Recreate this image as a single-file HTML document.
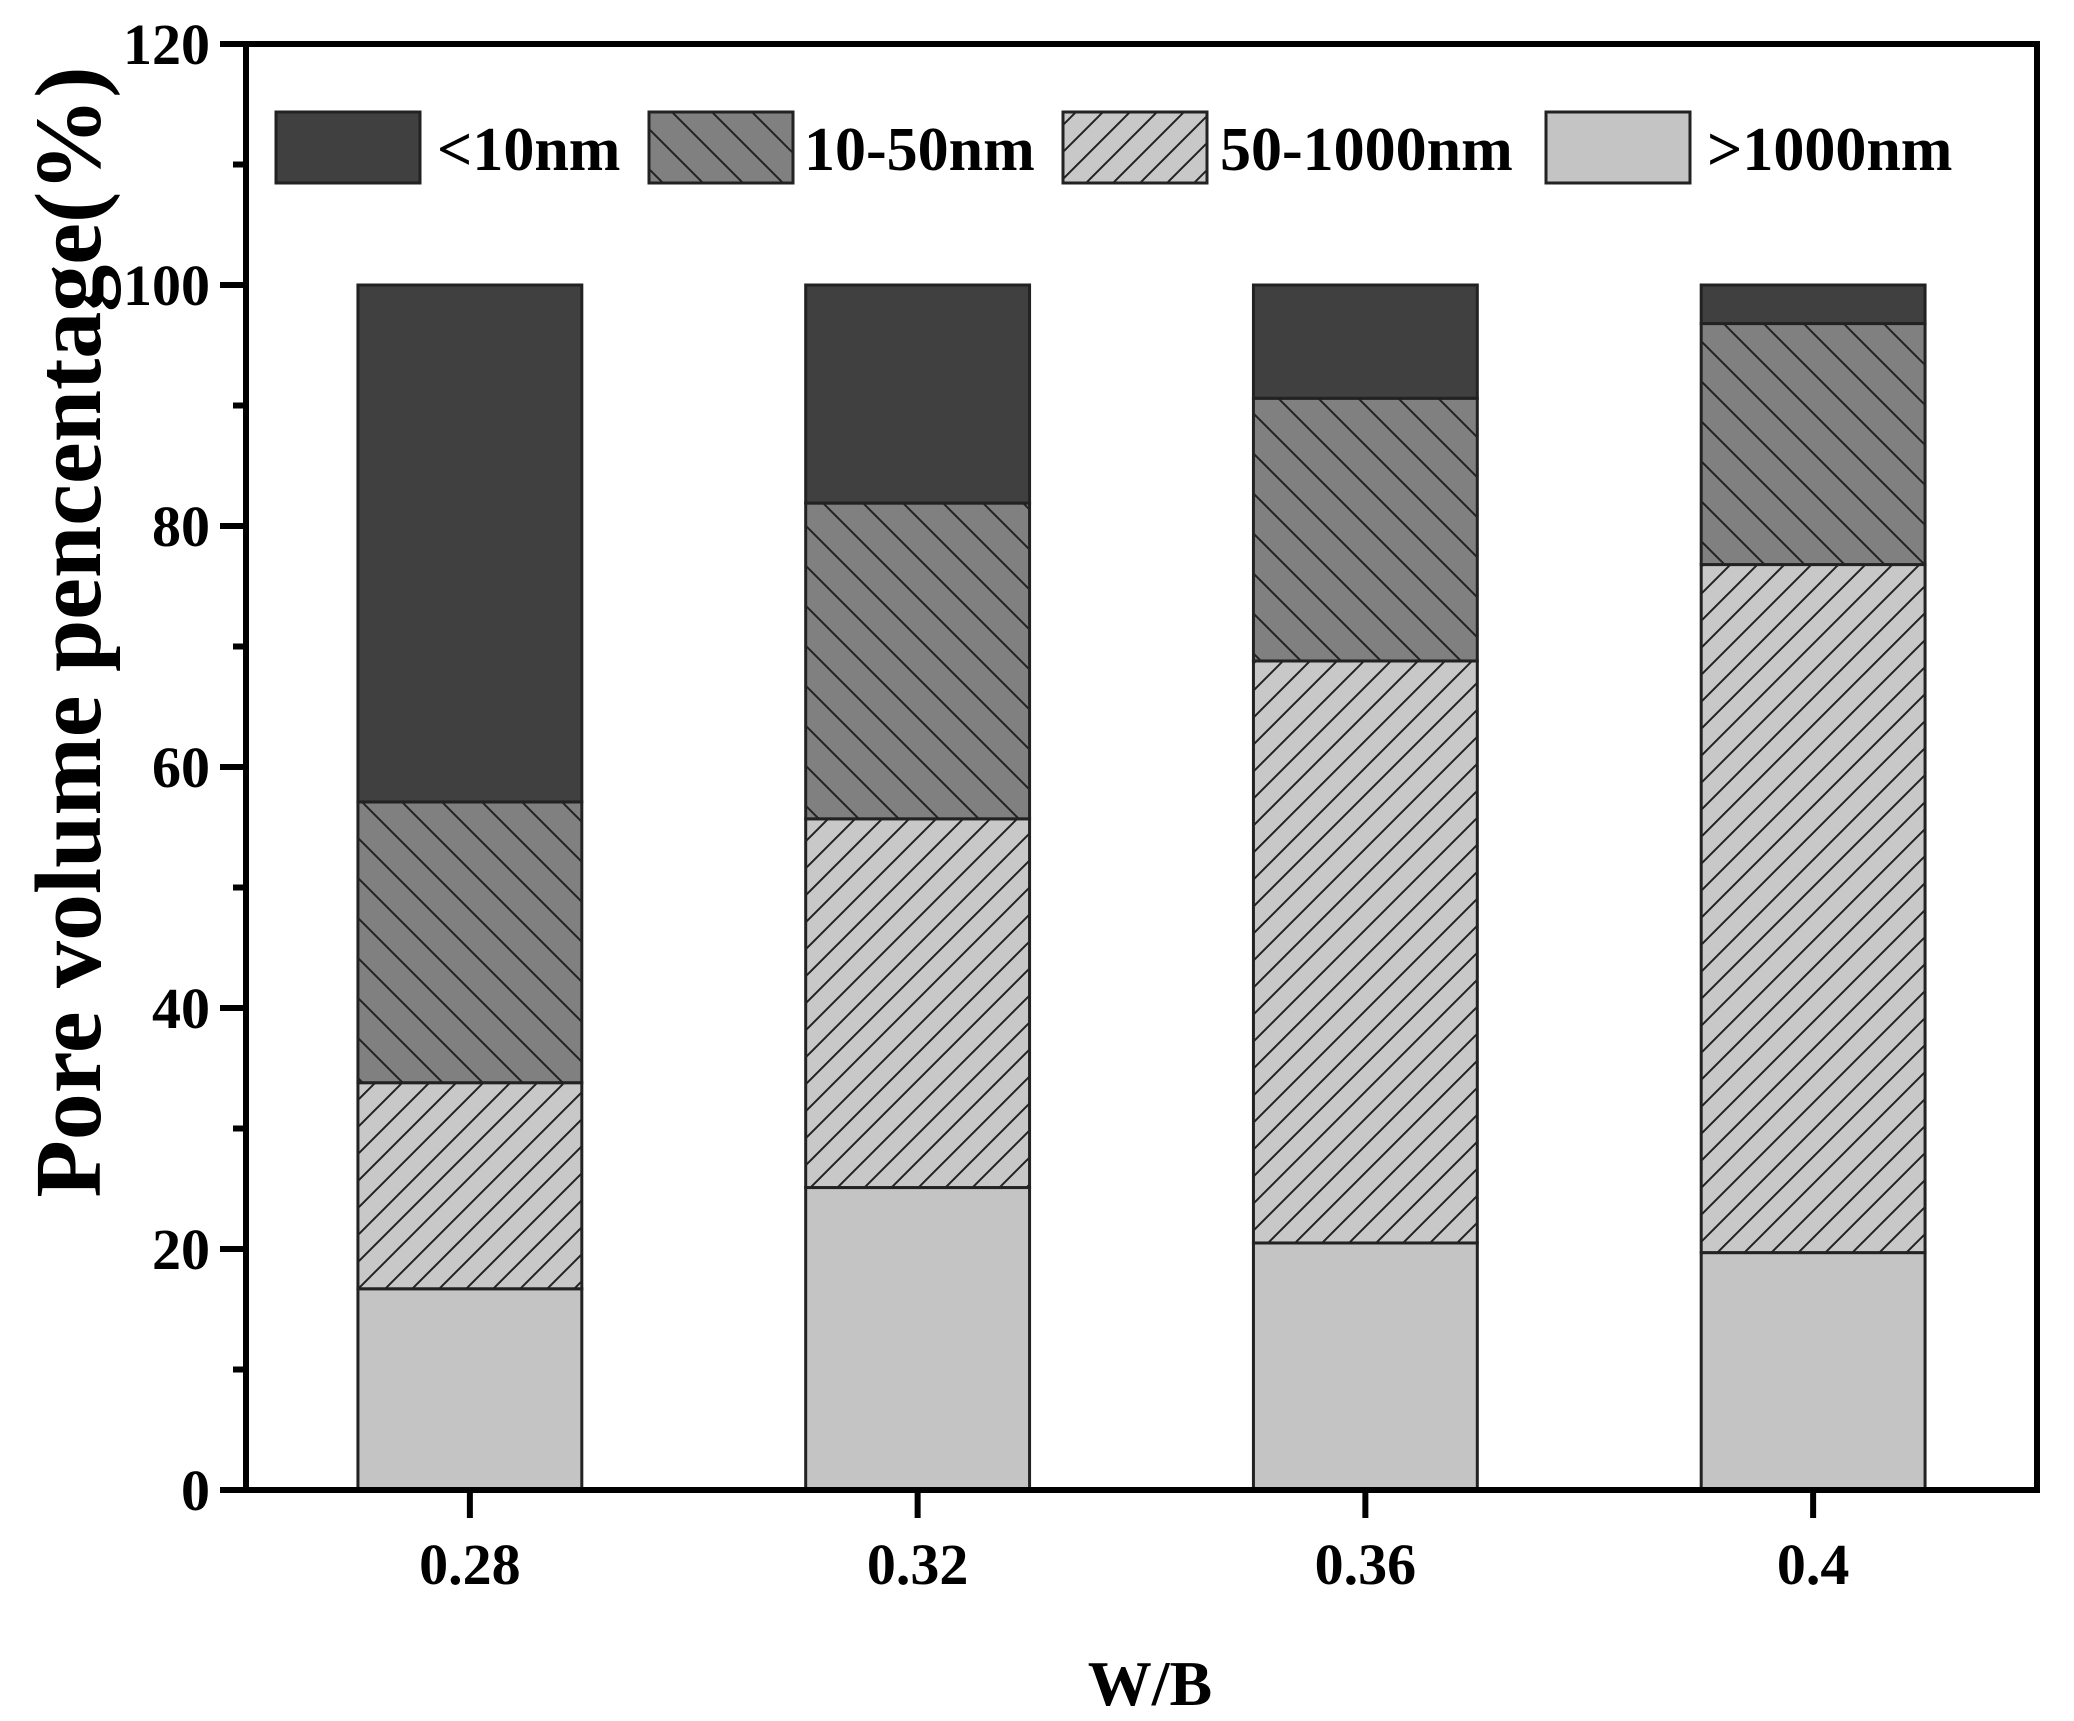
<!DOCTYPE html>
<html><head><meta charset="utf-8"><style>
html,body{margin:0;padding:0;background:#fff}
svg{display:block}
text{font-family:"Liberation Serif",serif;font-weight:bold;fill:#000}
</style></head><body>
<svg id="chart" width="2074" height="1721" viewBox="0 0 2074 1721" xmlns="http://www.w3.org/2000/svg">
<defs>
<pattern id="hatchBack" patternUnits="userSpaceOnUse" width="40" height="40">
<rect width="40" height="40" fill="#808080"/>
<path d="M-10,-10 L50,50 M-10,30 L10,50 M30,-10 L50,10" stroke="#222" stroke-width="2"/>
</pattern>
<pattern id="hatchFwd" patternUnits="userSpaceOnUse" width="27" height="27">
<rect width="27" height="27" fill="#c8c8c8"/>
<path d="M-5,32 L32,-5 M-5,5 L5,-5 M22,32 L32,22" stroke="#222" stroke-width="2"/>
</pattern>
</defs>
<g id="bars"></g>
<g id="axes"></g>
<g id="legend"></g>
<text transform="translate(100,632) rotate(-90)" text-anchor="middle" font-size="94">Pore volume pencentage(%)</text>
<text x="1150" y="1705" text-anchor="middle" font-size="64">W/B</text>
</svg>
<script>
const categories = [0.28, 0.32, 0.36, 0.40];
const categoryLabels = ["0.28", "0.32", "0.36", "0.4"];
const seriesNames = [">1000nm", "50-1000nm", "10-50nm", "<10nm"];
const s1000 = [16.7, 25.1, 20.5, 19.7];
const s50_1000 = [17.1, 30.6, 48.3, 57.1];
const s10_50 = [23.3, 26.2, 21.8, 20.0];
const sLt10 = [42.9, 18.1, 9.4, 3.2];
const yTicks = [0, 20, 40, 60, 80, 100, 120];
const yMinorTicks = [10, 30, 50, 70, 90, 110];

const NS = "http://www.w3.org/2000/svg";
const L = 246, R = 2037, T = 44, B = 1490;
const xMin = 0.26, xMax = 0.42, yMin = 0, yMax = 120;
function xs(v){ return L + (v - xMin) / (xMax - xMin) * (R - L); }
function ys(v){ return B - (v - yMin) / (yMax - yMin) * (B - T); }
const barW = xs(0.28 + 0.02) - xs(0.28);
function mk(tag, attrs, parent){ const e = document.createElementNS(NS, tag); for (const k in attrs) e.setAttribute(k, attrs[k]); parent.appendChild(e); return e; }

const series = [s1000, s50_1000, s10_50, sLt10];
const fills = ["#c4c4c4", "url(#hatchFwd)", "url(#hatchBack)", "#404040"];
const segNames = ["segment-gt1000nm", "segment-50-1000nm", "segment-10-50nm", "segment-lt10nm"];
const bars = document.getElementById("bars");
categories.forEach((c, i) => {
  let base = 0;
  series.forEach((s, j) => {
    const v = s[i];
    const r = mk("rect", {x: xs(c) - barW/2, y: ys(base + v), width: barW, height: ys(base) - ys(base + v), fill: fills[j], stroke: "#222", "stroke-width": 3}, bars);
    
    
    base += v;
  });
});

const axes = document.getElementById("axes");
const frame = mk("rect", {x: L, y: T, width: R - L, height: B - T, fill: "none", stroke: "#000", "stroke-width": 6}, axes);


yTicks.forEach(t => {
  const ln = mk("line", {x1: L - 26, x2: L, y1: ys(t), y2: ys(t), stroke: "#000", "stroke-width": 6}, axes);
  
  
  const tx = mk("text", {x: L - 36, y: ys(t) + 20, "text-anchor": "end", "font-size": 58}, axes);
  tx.textContent = t;
  
  
});
yMinorTicks.forEach(t => {
  const ln = mk("line", {x1: L - 13, x2: L, y1: ys(t), y2: ys(t), stroke: "#000", "stroke-width": 6}, axes);
  
  
});
categories.forEach((c, i) => {
  const ln = mk("line", {x1: xs(c), x2: xs(c), y1: B, y2: B + 28, stroke: "#000", "stroke-width": 6}, axes);
  
  
  const tx = mk("text", {x: xs(c), y: B + 94, "text-anchor": "middle", "font-size": 58}, axes);
  tx.textContent = categoryLabels[i];
  
  
});

const legend = document.getElementById("legend");
const legendItems = [
  {name: "<10nm", fill: "#404040", bx: 276, tx: 437},
  {name: "10-50nm", fill: "url(#hatchBack)", bx: 649, tx: 804},
  {name: "50-1000nm", fill: "url(#hatchFwd)", bx: 1063, tx: 1220},
  {name: ">1000nm", fill: "#c4c4c4", bx: 1546, tx: 1707}
];
legendItems.forEach(it => {
  const g = mk("g", {}, legend);
  
  
  mk("rect", {x: it.bx, y: 112, width: 144, height: 71, fill: it.fill, stroke: "#222", "stroke-width": 3}, g);
  const tx = mk("text", {x: it.tx, y: 170, "font-size": 62}, g);
  tx.textContent = it.name;
});
</script>
</body></html>
